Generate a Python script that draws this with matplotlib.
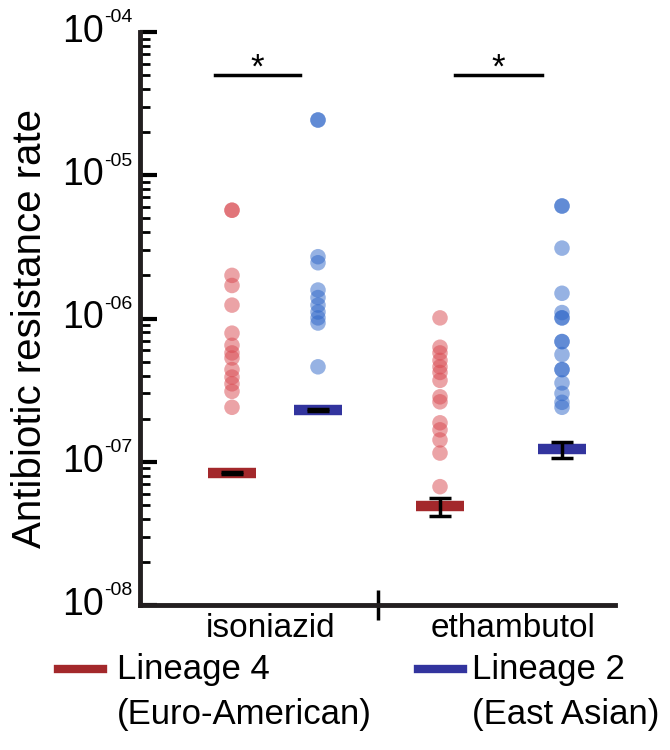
import numpy as np
import matplotlib
matplotlib.use("Agg")
import matplotlib.pyplot as plt
from matplotlib.lines import Line2D
from matplotlib.ticker import LogLocator, FixedLocator, NullFormatter

plt.rcParams['font.family'] = ['Liberation Sans', 'DejaVu Sans']

# data (antibiotic resistance rates)
drugs = ['isoniazid', 'ethambutol']
lineages = ['Lineage 4\n(Euro-American)', 'Lineage 2\n(East Asian)']

iso_l4 = [5.7e-6, 5.7e-6, 2.0e-6, 1.7e-6, 1.24e-6, 7.9e-7, 6.5e-7, 5.75e-7, 5.3e-7,
          4.4e-7, 3.9e-7, 3.5e-7, 3.1e-7, 2.4e-7]
iso_l2 = [2.43e-5, 2.43e-5, 2.7e-6, 2.45e-6, 1.58e-6, 1.4e-6, 1.24e-6, 1.11e-6,
          1.01e-6, 9.3e-7, 4.6e-7]
eth_l4 = [1.01e-6, 6.3e-7, 5.75e-7, 5.1e-7, 4.6e-7, 4.2e-7, 3.7e-7, 2.84e-7,
          2.62e-7, 1.87e-7, 1.67e-7, 1.42e-7, 1.15e-7, 6.7e-8]
eth_l2 = [6.1e-6, 6.1e-6, 3.1e-6, 1.5e-6, 1.1e-6, 1.01e-6, 1.01e-6, 6.9e-7, 6.9e-7,
          5.6e-7, 4.4e-7, 4.4e-7, 3.55e-7, 3.0e-7, 2.6e-7, 2.4e-7]

# central value and error bar range (low, high) for each group
centers = [8.3e-8, 2.3e-7, 4.9e-8, 1.23e-7]
err_low = [8.15e-8, 2.26e-7, 4.2e-8, 1.06e-7]
err_high = [8.45e-8, 2.34e-7, 5.6e-8, 1.38e-7]

decades = [-8, -7, -6, -5, -4]

red = '#d9484f'
blue = '#2e66c8'
red_bar = '#a3282b'
blue_bar = '#32349e'

fig = plt.figure(figsize=(6.7, 7.5), dpi=100)
ax = fig.add_axes([140 / 670, 1 - 605 / 750, 475 / 670, 573 / 750])

# x layout in pixel-like units along the axis
xpos = [92, 178, 300, 422]
series = [iso_l4, iso_l2, eth_l4, eth_l2]
pt_cols = [red, blue, red, blue]
bar_cols = [red_bar, blue_bar, red_bar, blue_bar]

for x, vals, c in zip(xpos, series, pt_cols):
    ax.scatter([x] * len(vals), vals, s=125, color=c, alpha=0.5,
               edgecolors='none', zorder=2)

for x, m, lo, hi, bc in zip(xpos, centers, err_low, err_high, bar_cols):
    ax.hlines(m, x - 24, x + 24, color=bc, lw=7.5, zorder=3)
    ax.errorbar([x], [m], yerr=[[m - lo], [hi - m]], fmt='none', ecolor='black',
                elinewidth=2.5, capsize=8, capthick=2.5, zorder=4)

# significance markers
for x0, x1 in [(75, 160), (315, 402)]:
    ax.plot([x0, x1], [5.0e-5, 5.0e-5], color='black', lw=2.5, clip_on=False)
    ax.annotate('*', ((x0 + x1) / 2, 5.0e-5), xytext=(0, -1.5), textcoords='offset points',
                ha='center', va='baseline', fontsize=25)

ax.set_yscale('log')
ax.set_ylim(1e-8, 1e-4)
ax.set_xlim(0, 475)

ax.yaxis.set_minor_locator(LogLocator(base=10, subs=np.arange(2, 10), numticks=20))
ax.yaxis.set_minor_formatter(NullFormatter())
ax.set_yticks([10.0 ** d for d in decades])
ax.set_yticklabels([''] * len(decades))

# y tick labels as "10" plus a raised "-0N"
ytr = ax.get_yaxis_transform()
for d in decades:
    ax.annotate('10', (0, 10.0 ** d), xycoords=ytr, xytext=(-26, 0),
                textcoords='offset points', ha='right', va='center',
                fontsize=27, annotation_clip=False)
    ax.annotate('-0%d' % -d, (0, 10.0 ** d), xycoords=ytr, xytext=(-26, 4),
                textcoords='offset points', ha='left', va='bottom',
                fontsize=14, annotation_clip=False)

ax.xaxis.set_major_locator(FixedLocator([238]))
ax.set_xticklabels([''])
ax.xaxis.set_minor_locator(FixedLocator([131, 373]))
ax.set_xticklabels(drugs, minor=True, fontsize=24)

ax.tick_params(axis='y', which='major', direction='in', length=12, width=3)
ax.tick_params(axis='y', which='minor', direction='in', length=7, width=2)
ax.tick_params(axis='x', which='major', direction='inout', length=22, width=2.5)
ax.tick_params(axis='x', which='minor', length=0, pad=6)

for s in ['top', 'right']:
    ax.spines[s].set_visible(False)
for s in ['left', 'bottom']:
    ax.spines[s].set_linewidth(3.5)
    ax.spines[s].set_color('#231f20')

fig.text(30 / 670, 1 - 328 / 750, 'Antibiotic resistance rate', rotation=90,
         ha='center', va='center', fontsize=29)

# legend drawn by hand so the swatch lines up with the first text line
for (lx, tx), col, lab in zip([(58, 117), (418, 472)], [red_bar, blue_bar], lineages):
    fig.add_artist(Line2D([lx / 670, (lx + 45) / 670], [1 - 669 / 750] * 2,
                          color=col, lw=6, transform=fig.transFigure))
    fig.text(tx / 670, 1 - 653 / 750, lab, ha='left', va='top', fontsize=25,
             linespacing=1.45)

fig.savefig('out.png', dpi=100)
